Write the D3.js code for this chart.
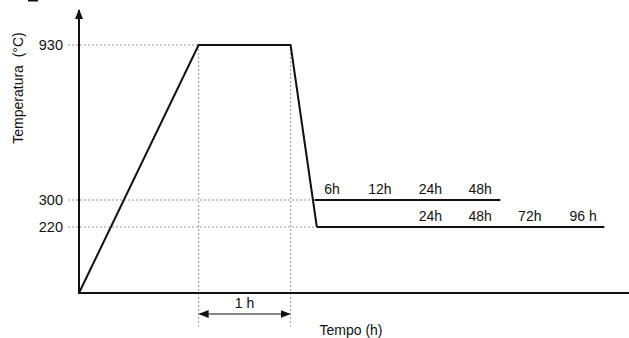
<!DOCTYPE html>
<html>
<head>
<meta charset="utf-8">
<script src="https://cdn.jsdelivr.net/npm/d3@7"></script>
<style>
body { margin: 0; background: #fff; }
text { font-family: "Liberation Sans", Arial, sans-serif; fill: #111; }
</style>
</head>
<body>
<svg id="chart" width="629" height="338"></svg>
<script>
// heat treatment cycle (schematic): time in h, temperature in °C
var cycleTime = [0, 1.3, 2.3, 2.585];
var cycleTemp = [0, 930, 930, 220];
var tempTicks = [930, 300, 220];

// two isothermal holds after quench
var holdTemps = [300, 220];
var holdStart = [2.56, 2.585];
var holdEnd = [4.58, 5.71];
var holdLabels = [["6h", "12h", "24h", "48h"], ["", "", "24h", "48h", "72h", "96 h"]];
var labelTimes = [2.75, 3.27, 3.82, 4.36, 4.9, 5.48];

var svg = d3.select("#chart");

var x = d3.scaleLinear().domain([0, 6]).range([79, 631]);
// schematic axis, not to scale
var y = d3.scaleLinear().domain([0, 220, 300, 930]).range([293, 227, 200, 45]);

var defs = svg.append("defs");
defs.append("marker").attr("id", "ah")
  .attr("viewBox", "0 0 10 10").attr("refX", 9).attr("refY", 5)
  .attr("markerWidth", 10).attr("markerHeight", 10)
  .attr("markerUnits", "userSpaceOnUse").attr("orient", "auto-start-reverse")
  .append("path").attr("d", "M0,1L10,5L0,9Z").attr("fill", "#111");

// little mark at the corner
svg.append("rect").attr("x", 28).attr("y", 0).attr("width", 10).attr("height", 1.5).attr("fill", "#111");

// dashed guides
var dash = svg.append("g").attr("stroke", "#999").attr("stroke-width", 1).attr("stroke-dasharray", "2,2");
dash.append("line").attr("x1", 68).attr("x2", x(cycleTime[1])).attr("y1", y(930)).attr("y2", y(930));
holdTemps.forEach(function(t, i) {
  dash.append("line").attr("x1", 68).attr("x2", x(holdStart[i])).attr("y1", y(t)).attr("y2", y(t));
});
[cycleTime[1], cycleTime[2]].forEach(function(t) {
  dash.append("line").attr("x1", x(t)).attr("x2", x(t)).attr("y1", y(930)).attr("y2", 326);
});

// axes
svg.append("line").attr("x1", x(0)).attr("x2", x(0)).attr("y1", y(0) + 1).attr("y2", 10)
  .attr("stroke", "#111").attr("stroke-width", 2).attr("marker-end", "url(#ah)");
svg.append("line").attr("x1", x(0) - 1).attr("x2", 640).attr("y1", y(0)).attr("y2", y(0))
  .attr("stroke", "#111").attr("stroke-width", 2).attr("marker-end", "url(#ah)");

// cycle curve
var line = d3.line().x(function(d) { return x(d[0]); }).y(function(d) { return y(d[1]); });
svg.append("path").datum(d3.zip(cycleTime, cycleTemp)).attr("d", line)
  .attr("fill", "none").attr("stroke", "#111").attr("stroke-width", 2).attr("stroke-linejoin", "miter");

holdTemps.forEach(function(t, i) {
  svg.append("path").datum([[holdStart[i], t], [holdEnd[i], t]]).attr("d", line)
    .attr("fill", "none").attr("stroke", "#111").attr("stroke-width", 2);
  holdLabels[i].forEach(function(lab, j) {
    if (!lab) return;
    svg.append("text").attr("x", x(labelTimes[j])).attr("y", y(t) - 6)
      .attr("text-anchor", "middle").attr("font-size", 14).text(lab);
  });
});

// y tick labels
tempTicks.forEach(function(t) {
  svg.append("text").attr("x", 63).attr("y", y(t)).attr("dy", "0.36em")
    .attr("text-anchor", "end").attr("font-size", 14.5).text(t);
});

// 1 h dimension arrow
svg.append("line").attr("x1", x(cycleTime[1]) + 1).attr("x2", x(cycleTime[2]) - 1).attr("y1", 314).attr("y2", 314)
  .attr("stroke", "#111").attr("stroke-width", 1.2)
  .attr("marker-start", "url(#ah)").attr("marker-end", "url(#ah)");
svg.append("text").attr("x", (x(cycleTime[1]) + x(cycleTime[2])) / 2).attr("y", 308)
  .attr("text-anchor", "middle").attr("font-size", 14).text("1 h");

// axis titles
svg.append("text").attr("x", 351).attr("y", 335).attr("text-anchor", "middle")
  .attr("font-size", 14).text("Tempo (h)");
svg.append("text").attr("transform", "translate(23,88) rotate(-90)").attr("text-anchor", "middle")
  .attr("font-size", 14).attr("xml:space", "preserve").text("Temperatura  (°C)");
</script>
</body>
</html>
